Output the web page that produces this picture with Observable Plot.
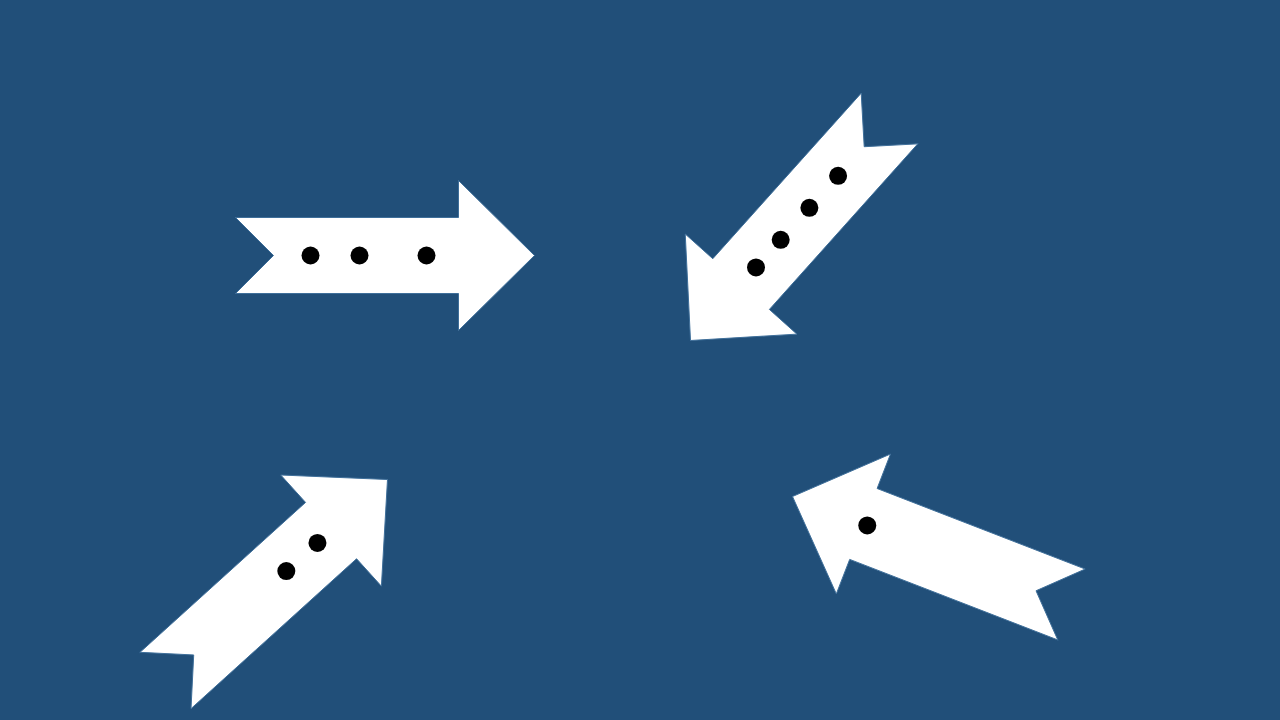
<!DOCTYPE html>
<html>
<head>
<meta charset="utf-8">
<script src="https://cdn.jsdelivr.net/npm/d3@7"></script>
<script src="https://cdn.jsdelivr.net/npm/@observablehq/plot@0.6"></script>
<style>
  body { margin: 0; background: #214f79; overflow: hidden; }
</style>
</head>
<body>
<div id="chart"></div>
<script>
// each arrow: tail centre, tip, distances of dots from the tail
const arrowIds = ["a1", "a2", "a3", "a4"];
const tailX = [235, 889, 165, 1071];
const tailY = [255, 118, 680, 604];
const tipX = [534, 690, 387, 792];
const tipY = [255, 340, 479, 496];
const dotDist = [[75, 124, 191], [77, 120, 163, 200], [163, 205], [219]];

// arrow outline in (along, across) units, along from tail
const shapeU = [0, 223, 223, 299, 223, 223, 0, 38, 0];
const shapeV = [-38, -38, -75, 0, 75, 38, 38, 0, -38];

let outline = [];
let dots = [];
arrowIds.forEach((id, i) => {
  let dx = tipX[i] - tailX[i], dy = tipY[i] - tailY[i];
  let len = Math.hypot(dx, dy);
  let ux = dx / len, uy = dy / len;
  let s = len / 299;
  shapeU.forEach((u, k) => {
    let v = shapeV[k];
    outline.push({
      id,
      x: tailX[i] + ux * u * s - uy * v,
      y: tailY[i] + uy * u * s + ux * v
    });
  });
  dotDist[i].forEach(d => {
    dots.push({ x: tailX[i] + ux * d, y: tailY[i] + uy * d });
  });
});

let chart = Plot.plot({
  width: 1280,
  height: 720,
  margin: 0,
  style: { background: "#214f79" },
  x: { domain: [0, 1280], range: [0, 1280], axis: null },
  y: { domain: [0, 720], range: [0, 720], axis: null },
  marks: [
    Plot.line(outline, { x: "x", y: "y", z: "id", fill: "white", stroke: "#3f6f9a", strokeWidth: 1, curve: "linear" }),
    Plot.dot(dots, { x: "x", y: "y", r: 9, fill: "black", stroke: "none" })
  ]
});

d3.select("#chart").append(() => chart);
</script>
</body>
</html>
